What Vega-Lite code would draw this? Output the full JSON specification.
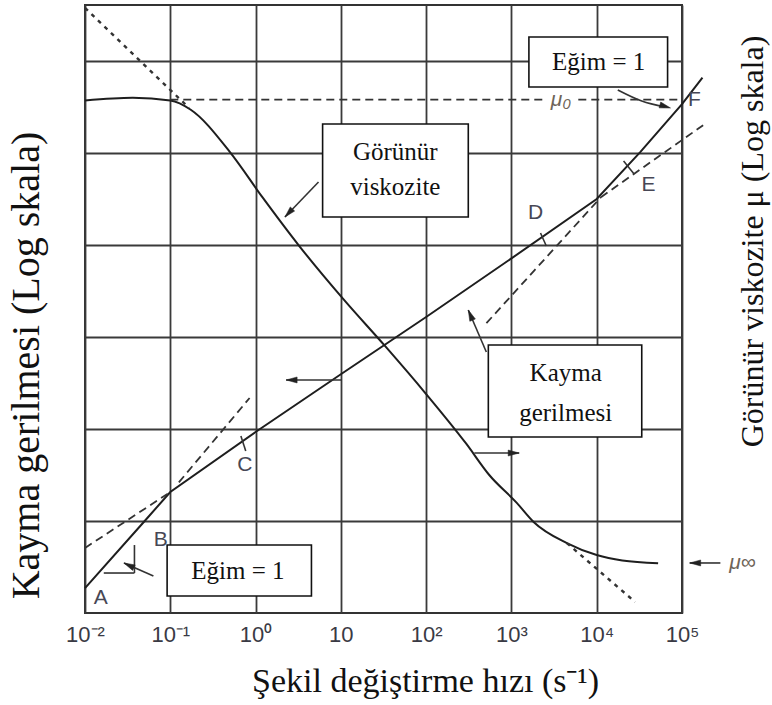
{
  "$schema": "https://vega.github.io/schema/vega-lite/v6.json",
  "width": 597,
  "height": 608,
  "autosize": {"type": "none"},
  "padding": {"left": 85, "top": 5, "right": 90, "bottom": 92},
  "background": "white",
  "config": {
    "view": {"stroke": "#333", "strokeWidth": 2},
    "axis": {"gridColor": "#3a3a3a", "gridWidth": 1.8, "gridOpacity": 1}
  },
  "datasets": {
    "shear": [
      {"x": 0.01, "y": 1.862}, {"x": 0.0501, "y": 10}, {"x": 0.1, "y": 20.65},
      {"x": 1, "y": 92.7}, {"x": 10, "y": 393.6}, {"x": 100, "y": 1648},
      {"x": 1000, "y": 7145}, {"x": 10000, "y": 31623}, {"x": 32359, "y": 102329},
      {"x": 100000, "y": 338844}, {"x": 173780, "y": 660693}
    ],
    "visc": [
      {"x": 0.01, "y": 371535}, {"x": 0.0363, "y": 398107}, {"x": 0.1, "y": 371535},
      {"x": 0.1738, "y": 295121}, {"x": 0.501, "y": 102329}, {"x": 1.202, "y": 33113},
      {"x": 3.311, "y": 9550}, {"x": 10.96, "y": 2512}, {"x": 33.11, "y": 794.3},
      {"x": 100, "y": 239.9}, {"x": 295.1, "y": 69.18}, {"x": 549.5, "y": 31.62},
      {"x": 1148, "y": 15.85}, {"x": 1820, "y": 9.772}, {"x": 4467, "y": 5.754},
      {"x": 10000, "y": 4.266}, {"x": 19953, "y": 3.715}, {"x": 52481, "y": 3.467}
    ],
    "dashed": [
      {"id": "ab", "x": 0.01, "y": 5.09}, {"id": "ab", "x": 0.1, "y": 20.65},
      {"id": "c", "x": 0.126, "y": 26.3}, {"id": "c", "x": 0.851, "y": 217.3},
      {"id": "d", "x": 509, "y": 1413}, {"id": "d", "x": 11220, "y": 33113},
      {"id": "e", "x": 11220, "y": 33113}, {"id": "e", "x": 194984, "y": 213796},
      {"id": "mu0a", "x": 0.1, "y": 380189}, {"id": "mu0a", "x": 2371, "y": 380189},
      {"id": "mu0b", "x": 6081, "y": 380189}, {"id": "mu0b", "x": 100000, "y": 380189}
    ],
    "dotted": [
      {"id": "t", "x": 0.01, "y": 3770000}, {"id": "t", "x": 0.166, "y": 309030},
      {"id": "b", "x": 4467, "y": 5.754}, {"id": "b", "x": 28184, "y": 1.318}
    ],
    "segs": [
      {"x": 0.0166, "y": 2.72, "x2": 0.038, "y2": 2.72},
      {"x": 0.038, "y": 2.72, "x2": 0.038, "y2": 5.48},
      {"x": 0.673, "y": 83.9, "x2": 0.767, "y2": 57.7},
      {"x": 2193, "y": 13490, "x2": 2564, "y2": 9750},
      {"x": 20654, "y": 81846, "x2": 27416, "y2": 59155},
      {"x": 5.47, "y": 48417, "x2": 2.21, "y2": 20137},
      {"x": 10.3, "y": 341, "x2": 2.28, "y2": 341},
      {"x": 367, "y": 54.8, "x2": 1233, "y2": 54.8},
      {"x": 508, "y": 687, "x2": 312, "y2": 1965},
      {"x": 281838, "y": 3.497, "x2": 123027, "y2": 3.497},
      {"x": 0.0634, "y": 2.523, "x2": 0.0286, "y2": 3.494}
    ],
    "curve": [
      {"x": 17660, "y": 484200}, {"x": 33730, "y": 367300}, {"x": 62810, "y": 316200}
    ],
    "heads": [
      {"x": 2.21, "y": 20137, "angle": 223},
      {"x": 2.28, "y": 341, "angle": 270},
      {"x": 1233, "y": 54.8, "angle": 90},
      {"x": 312, "y": 1965, "angle": 337},
      {"x": 73282, "y": 308319, "angle": 106},
      {"x": 123027, "y": 3.497, "angle": 270},
      {"x": 0.0286, "y": 3.494, "angle": 295}
    ],
    "boxes": [
      {"x": 0.0918, "x2": 4.52, "y": 5.48, "y2": 1.531},
      {"x": 6.11, "x2": 312, "y": 206538, "y2": 20137},
      {"x": 536, "x2": 33729, "y": 818, "y2": 81.8},
      {"x": 1603, "x2": 67764, "y": 1823000, "y2": 521195}
    ],
    "boxtext": [
      {"x": 0.621, "y": 2.86, "text": "Eğim = 1"},
      {"x": 43.5, "y": 102565, "text": "Görünür"},
      {"x": 43.5, "y": 42658, "text": "viskozite"},
      {"x": 4325, "y": 406, "text": "Kayma"},
      {"x": 4325, "y": 149.3, "text": "gerilmesi"},
      {"x": 10520, "y": 974990, "text": "Eğim = 1"}
    ],
    "letters": [
      {"x": 0.0153, "y": 1.456, "text": "A"},
      {"x": 0.0774, "y": 6.21, "text": "B"},
      {"x": 0.748, "y": 40.6, "text": "C"},
      {"x": 1923, "y": 22284, "text": "D"},
      {"x": 40458, "y": 44875, "text": "E"},
      {"x": 140000, "y": 376704, "text": "F"}
    ],
    "mus": [
      {"x": 3802, "y": 380189, "text": "μ₀"},
      {"x": 510500, "y": 3.497, "text": "μ∞"}
    ]
  },
  "encoding": {
    "x": {
      "field": "x", "type": "quantitative",
      "scale": {"type": "log", "domain": [0.01, 100000], "nice": false},
      "axis": {
        "values": [0.01, 0.1, 1, 10, 100, 1000, 10000, 100000],
        "labelExpr": "['10⁻²','10⁻¹','10⁰','10','10²','10³','10⁴','10⁵'][round(log(datum.value)/LN10)+2]",
        "grid": true, "domain": false, "ticks": false,
        "labelFont": "Liberation Sans", "labelFontSize": 22, "labelColor": "#3a3a44",
        "labelPadding": 11, "labelFlush": false,
        "title": "Şekil değiştirme hızı (s⁻¹)",
        "titleFont": "Liberation Serif", "titleFontSize": 34, "titleFontWeight": "normal",
        "titleColor": "#111", "titlePadding": 14, "titleX": 340, "titleY": 78, "titleBaseline": "alphabetic"
      }
    },
    "y": {
      "field": "y", "type": "quantitative",
      "scale": {"type": "log", "domain": [1, 4060000], "nice": false},
      "axis": null
    }
  },
  "layer": [
    {
      "data": {"name": "shear"},
      "mark": {"type": "line", "color": "#1e1e1e", "strokeWidth": 2},
      "encoding": {
        "y": {
          "field": "y", "type": "quantitative",
          "scale": {"type": "log", "domain": [1, 4060000], "nice": false},
          "axis": {
            "values": [10, 100, 1000, 10000, 100000, 1000000],
            "labels": false, "ticks": false, "domain": false, "grid": true,
            "title": "Kayma gerilmesi (Log skala)",
            "titleFont": "Liberation Serif", "titleFontSize": 40, "titleFontWeight": "normal",
            "titleColor": "#111", "titleAngle": 270, "titleBaseline": "middle", "titleAlign": "center",
            "titleX": -59, "titleY": 360
          }
        }
      }
    },
    {
      "data": {"name": "visc"},
      "mark": {"type": "line", "color": "#1e1e1e", "strokeWidth": 2, "interpolate": "monotone"},
      "encoding": {
        "y": {
          "field": "y", "type": "quantitative",
          "scale": {"type": "log", "domain": [1, 4060000], "nice": false},
          "axis": {
            "orient": "right",
            "labels": false, "ticks": false, "domain": false, "grid": false,
            "title": "Görünür viskozite μ (Log skala)",
            "titleFont": "Liberation Serif", "titleFontSize": 32, "titleFontWeight": "normal",
            "titleColor": "#111", "titleAngle": 270, "titleBaseline": "middle", "titleAlign": "center",
            "titleX": 70, "titleY": 236
          }
        }
      }
    },
    {
      "data": {"name": "dashed"},
      "mark": {"type": "line", "color": "#333", "strokeWidth": 1.8, "strokeDash": [8, 5]},
      "encoding": {"detail": {"field": "id"}}
    },
    {
      "data": {"name": "dotted"},
      "mark": {"type": "line", "color": "#333", "strokeWidth": 2.4, "strokeDash": [4, 5]},
      "encoding": {"detail": {"field": "id"}}
    },
    {
      "data": {"name": "boxes"},
      "mark": {"type": "rect", "fill": "white", "stroke": "#111", "strokeWidth": 1.6},
      "encoding": {"x2": {"field": "x2"}, "y2": {"field": "y2"}}
    },
    {
      "data": {"name": "segs"},
      "mark": {"type": "rule", "color": "#333", "strokeWidth": 1.6},
      "encoding": {"x2": {"field": "x2"}, "y2": {"field": "y2"}}
    },
    {
      "data": {"name": "curve"},
      "mark": {"type": "line", "color": "#333", "strokeWidth": 1.6, "interpolate": "monotone"},
      "encoding": {}
    },
    {
      "data": {"name": "heads"},
      "mark": {"type": "point", "shape": "M0,0L0.6,2.2L-0.6,2.2Z", "filled": true, "fill": "#222", "stroke": "#222", "strokeWidth": 0.5, "size": 100, "opacity": 1},
      "encoding": {"angle": {"field": "angle", "type": "quantitative", "scale": null}}
    },
    {
      "data": {"name": "boxtext"},
      "mark": {"type": "text", "font": "Liberation Serif", "fontSize": 25, "color": "#111", "baseline": "middle", "align": "center"},
      "encoding": {"text": {"field": "text"}}
    },
    {
      "data": {"name": "letters"},
      "mark": {"type": "text", "font": "Liberation Sans", "fontSize": 21, "color": "#474755", "baseline": "middle", "align": "center"},
      "encoding": {"text": {"field": "text"}}
    },
    {
      "data": {"name": "mus"},
      "mark": {"type": "text", "font": "Liberation Sans", "fontSize": 21, "fontStyle": "italic", "color": "#6e6458", "baseline": "middle", "align": "center"},
      "encoding": {"text": {"field": "text"}}
    }
  ],
  "resolve": {"axis": {"y": "independent"}}
}
